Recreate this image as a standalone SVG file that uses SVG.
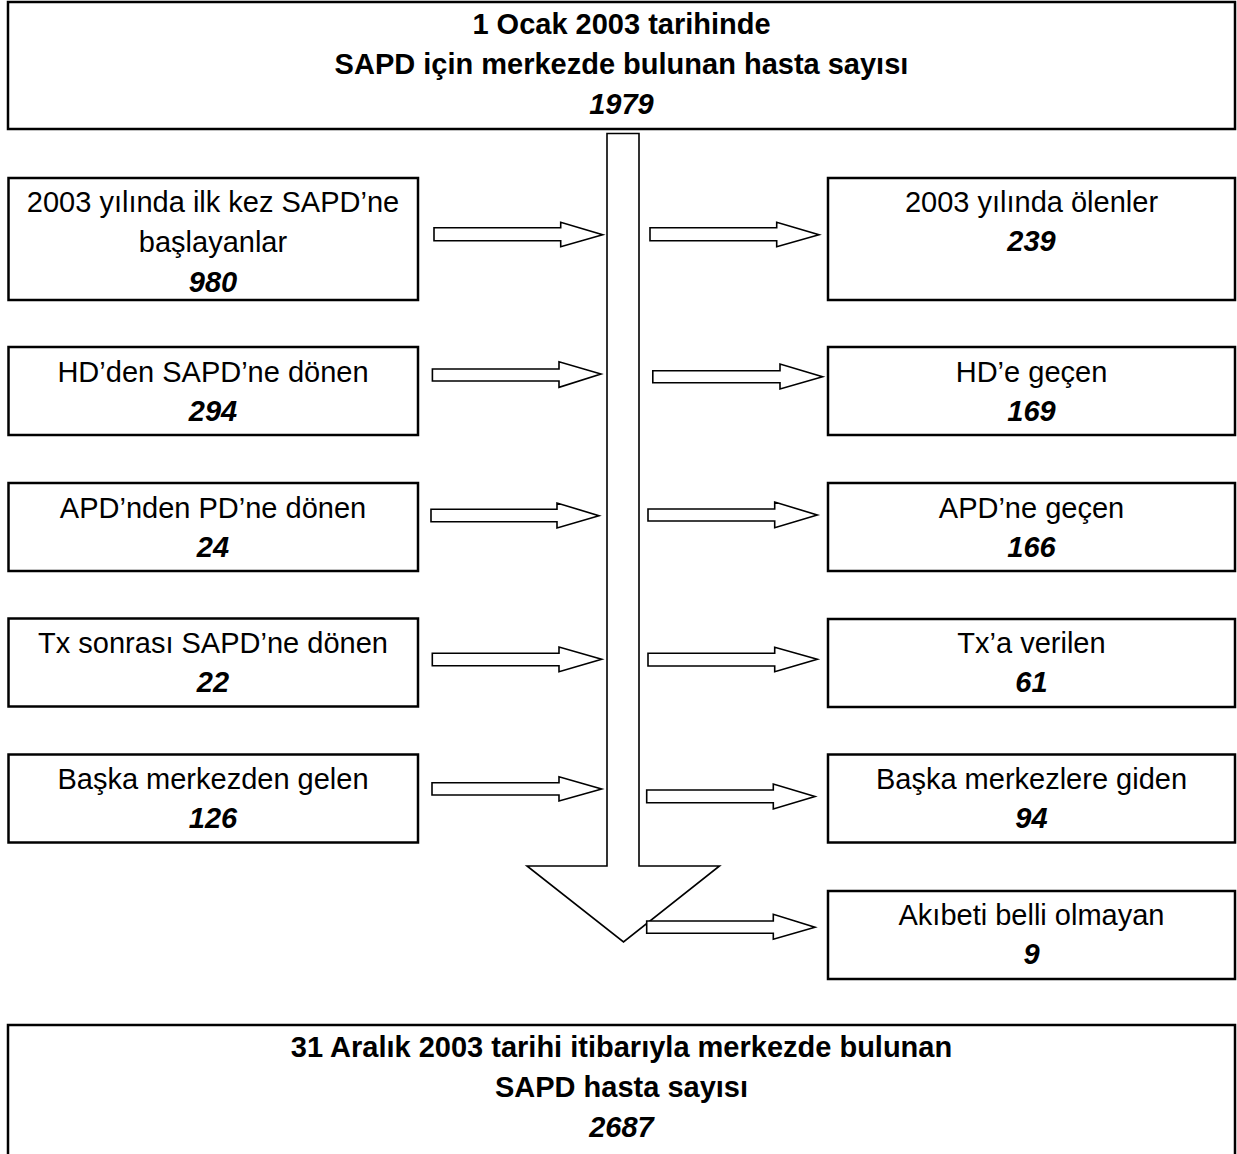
<svg xmlns="http://www.w3.org/2000/svg" width="1237" height="1154" viewBox="0 0 1237 1154">
<style>
.box{fill:#fff;stroke:#000;stroke-width:2.5}
.arr{fill:#fff;stroke:#000;stroke-width:1.6;stroke-linejoin:miter}
text{font-family:"Liberation Sans",Arial,sans-serif;font-size:29px;text-anchor:middle;fill:#000}
.b{font-weight:bold}
.n{font-weight:bold;font-style:italic}
</style>
<rect width="1237" height="1154" fill="#fff"/>
<g id="top">
<rect class="box" x="8" y="2" width="1227" height="127"/>
<text class="b" x="621.5" y="34">1 Ocak 2003 tarihinde</text>
<text class="b" x="621.5" y="74">SAPD için merkezde bulunan hasta sayısı</text>
<text class="n" x="621.5" y="114">1979</text>
</g>
<g id="connectors">
<polygon class="arr" points="607,133.5 639,133.5 639,866 719.5,866 623.5,942 527,866 607,866"/>
<polygon class="arr" points="434,227.7 560.7,227.7 560.7,222.3 602.7,234.7 560.7,246.7 560.7,240.7 434,240.7"/>
<polygon class="arr" points="432.4,369 559,369 559,361.7 601,374 559,387.3 559,381 432.4,381"/>
<polygon class="arr" points="431,509.3 557,509.3 557,503 599,515.7 557,528 557,521.7 431,521.7"/>
<polygon class="arr" points="432.3,653.3 559,653.3 559,647 601.7,659.3 559,671.7 559,665.7 432.3,665.7"/>
<polygon class="arr" points="432,782.7 559,782.7 559,776.7 601.7,789 559,801 559,795 432,795"/>
<polygon class="arr" points="650,227.7 776.7,227.7 776.7,222.3 819,234.7 776.7,246.7 776.7,240.7 650,240.7"/>
<polygon class="arr" points="652.8,370.7 780,370.7 780,364 822.6,376.7 780,389 780,382.7 652.8,382.7"/>
<polygon class="arr" points="648,509 774.7,509 774.7,502 817.3,515 774.7,527.7 774.7,521 648,521"/>
<polygon class="arr" points="648,653.3 774.7,653.3 774.7,647.3 817.3,659.3 774.7,671.7 774.7,666 648,666"/>
<polygon class="arr" points="646.7,790 773.3,790 773.3,784 815,796.5 773.3,809 773.3,802.7 646.7,802.7"/>
<polygon class="arr" points="646.7,921 773.3,921 773.3,914.3 815,927.3 773.3,939.3 773.3,933.3 646.7,933.3"/>
</g>
<g id="new2003">
<rect class="box" x="8.5" y="178" width="409.5" height="122"/>
<text x="213" y="212">2003 yılında ilk kez SAPD’ne</text>
<text x="213" y="252">başlayanlar</text>
<text class="n" x="213" y="292">980</text>
</g>
<g id="hdToSapd">
<rect class="box" x="8.5" y="347" width="409.5" height="88"/>
<text x="213" y="382">HD’den SAPD’ne dönen</text>
<text class="n" x="213" y="421">294</text>
</g>
<g id="apdToPd">
<rect class="box" x="8.5" y="483" width="409.5" height="88"/>
<text x="213" y="518">APD’nden PD’ne dönen</text>
<text class="n" x="213" y="557">24</text>
</g>
<g id="txToSapd">
<rect class="box" x="8.5" y="618.5" width="409.5" height="88"/>
<text x="213" y="653">Tx sonrası SAPD’ne dönen</text>
<text class="n" x="213" y="692">22</text>
</g>
<g id="fromOther">
<rect class="box" x="8.5" y="754.5" width="409.5" height="88"/>
<text x="213" y="789">Başka merkezden gelen</text>
<text class="n" x="213" y="828">126</text>
</g>
<g id="died">
<rect class="box" x="828" y="178" width="407" height="122"/>
<text x="1031.5" y="212">2003 yılında ölenler</text>
<text class="n" x="1031.5" y="251">239</text>
</g>
<g id="toHd">
<rect class="box" x="828" y="347" width="407" height="88"/>
<text x="1031.5" y="382">HD’e geçen</text>
<text class="n" x="1031.5" y="421">169</text>
</g>
<g id="toApd">
<rect class="box" x="828" y="483" width="407" height="88"/>
<text x="1031.5" y="518">APD’ne geçen</text>
<text class="n" x="1031.5" y="557">166</text>
</g>
<g id="toTx">
<rect class="box" x="828" y="619" width="407" height="88"/>
<text x="1031.5" y="653">Tx’a verilen</text>
<text class="n" x="1031.5" y="692">61</text>
</g>
<g id="toOther">
<rect class="box" x="828" y="754.5" width="407" height="88"/>
<text x="1031.5" y="789">Başka merkezlere giden</text>
<text class="n" x="1031.5" y="828">94</text>
</g>
<g id="unknown">
<rect class="box" x="828" y="891" width="407" height="88"/>
<text x="1031.5" y="925">Akıbeti belli olmayan</text>
<text class="n" x="1031.5" y="964">9</text>
</g>
<g id="bottom">
<rect class="box" x="8" y="1025" width="1227" height="140"/>
<text class="b" x="621.5" y="1057">31 Aralık 2003 tarihi itibarıyla merkezde bulunan</text>
<text class="b" x="621.5" y="1097">SAPD hasta sayısı</text>
<text class="n" x="621.5" y="1137">2687</text>
</g>
</svg>
